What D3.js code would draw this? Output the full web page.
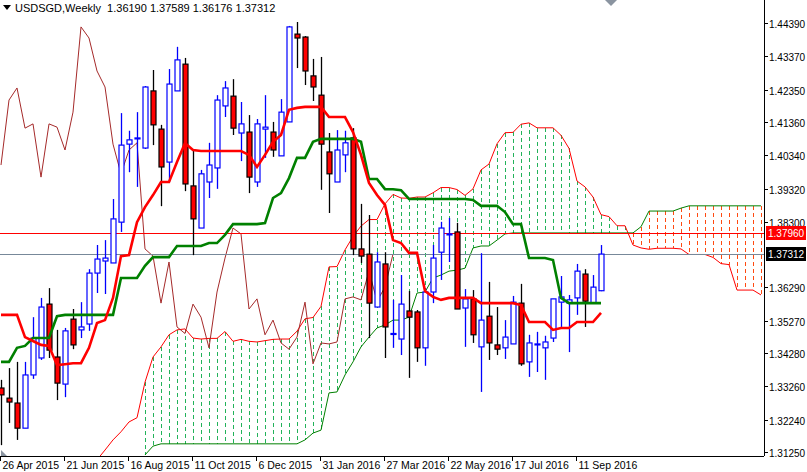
<!DOCTYPE html>
<html><head><meta charset="utf-8">
<script src="https://cdn.jsdelivr.net/npm/d3@7/dist/d3.min.js"></script>
<style>body{margin:0;background:#fff}svg{display:block}</style>
</head><body>
<script>
// Weekly bars, index 0 = week of 26 Apr 2015
const opens  = [1.3321,1.3290,1.3275,1.3198,1.3361,1.3413,1.3578,1.3416,1.3333,1.3532,1.3499,1.3517,1.3673,1.3710,1.3704,1.3829,1.4068,1.4086,1.4056,1.4231,1.4114,1.4013,1.4231,1.4313,1.3940,1.3811,1.3952,1.3995,1.4185,1.4215,1.4102,1.4105,1.3952,1.4114,1.4105,1.4032,1.4136,1.4405,1.4396,1.4277,1.4218,1.4044,1.3952,1.4035,1.4087,1.3747,1.3731,1.3569,1.3701,1.3487,1.3471,1.3557,1.3554,1.3444,1.3615,1.3737,1.3792,1.3799,1.3566,1.3594,1.3447,1.3541,1.3453,1.3444,1.3456,1.3581,1.3401,1.3456,1.3444,1.3474,1.3584,1.3581,1.3597,1.3670,1.3581,1.36190];
const highs  = [1.3346,1.3382,1.3401,1.3401,1.3538,1.3597,1.3627,1.3499,1.3505,1.3563,1.3584,1.3685,1.3759,1.3774,1.3900,1.4163,1.4109,1.4166,1.4246,1.4295,1.4127,1.4298,1.4366,1.4332,1.4050,1.3989,1.4072,1.4218,1.4261,1.4267,1.4197,1.4157,1.4145,1.4218,1.4136,1.4206,1.4430,1.4442,1.4399,1.4329,1.4335,1.4102,1.4111,1.4109,1.4117,1.3885,1.3851,1.3737,1.3737,1.3591,1.3667,1.3618,1.3560,1.3627,1.3759,1.3830,1.3842,1.3827,1.3624,1.3621,1.3734,1.3646,1.3569,1.3529,1.3603,1.3640,1.3484,1.3493,1.3481,1.3594,1.3664,1.3606,1.3701,1.3685,1.3667,1.37589];
const lows   = [1.3146,1.3214,1.3162,1.3198,1.3349,1.3407,1.3413,1.3284,1.3293,1.3440,1.3474,1.3496,1.3612,1.3609,1.3704,1.3799,1.3982,1.3937,1.4053,1.4065,1.3878,1.3952,1.4231,1.3924,1.3728,1.3811,1.3903,1.3931,1.4151,1.4096,1.4016,1.3918,1.3937,1.4026,1.4029,1.4032,1.4136,1.4301,1.4249,1.4200,1.3928,1.3857,1.3952,1.3982,1.3728,1.3704,1.3474,1.3569,1.3413,1.3444,1.3422,1.3352,1.3401,1.3389,1.3581,1.3652,1.3707,1.3563,1.3447,1.3459,1.3309,1.3407,1.3422,1.3410,1.3456,1.3389,1.3355,1.3370,1.3346,1.3462,1.3508,1.3431,1.3545,1.3508,1.3581,1.36176];
const closes = [1.3300,1.3278,1.3198,1.3361,1.3474,1.3569,1.3437,1.3336,1.3496,1.3453,1.3508,1.3673,1.3716,1.3719,1.3839,1.4065,1.4081,1.4087,1.4243,1.4127,1.3998,1.4252,1.4326,1.3946,1.3839,1.3977,1.4004,1.4203,1.4240,1.4117,1.4130,1.3967,1.4130,1.4120,1.4050,1.4166,1.4427,1.4393,1.4292,1.4243,1.4068,1.3977,1.4050,1.4072,1.3747,1.3725,1.3581,1.3707,1.3508,1.3488,1.3578,1.3538,1.3444,1.3615,1.3719,1.3811,1.3793,1.3563,1.3594,1.3484,1.3529,1.3459,1.3440,1.3477,1.3584,1.3395,1.3459,1.3456,1.3462,1.3594,1.3600,1.3591,1.3679,1.3587,1.3630,1.37312];
const tenkan = [1.3545,1.3545,1.3545,1.3477,1.3465,1.3453,1.3450,1.3391,1.3394,1.3397,1.3397,1.3444,1.3520,1.3529,1.3597,1.3725,1.3728,1.3829,1.3875,1.3912,1.3952,1.3952,1.4013,1.4071,1.4050,1.4047,1.4047,1.4047,1.4047,1.4047,1.4047,1.4035,1.3998,1.4035,1.4075,1.4096,1.4173,1.4179,1.4182,1.4182,1.4182,1.4151,1.4151,1.4151,1.4105,1.4035,1.3949,1.3912,1.3882,1.3774,1.3765,1.3735,1.3735,1.3618,1.3600,1.3591,1.3597,1.3597,1.3597,1.3597,1.3581,1.3581,1.3581,1.3581,1.3581,1.3575,1.3523,1.3523,1.3523,1.3499,1.3505,1.3505,1.3523,1.3523,1.3523,1.3551];
const kijun  = [1.3401,1.3401,1.3444,1.3450,1.3474,1.3474,1.3474,1.3541,1.3545,1.3545,1.3545,1.3545,1.3545,1.3545,1.3545,1.3658,1.3658,1.3658,1.3695,1.3722,1.3722,1.3722,1.3756,1.3756,1.3756,1.3756,1.3765,1.3765,1.3790,1.3823,1.3823,1.3823,1.3823,1.3826,1.3903,1.3918,1.3964,1.4026,1.4026,1.4075,1.4084,1.4084,1.4084,1.4084,1.4084,1.4075,1.3961,1.3961,1.3930,1.3930,1.3927,1.3900,1.3900,1.3900,1.3900,1.3900,1.3900,1.3900,1.3900,1.3897,1.3879,1.3879,1.3879,1.3860,1.3823,1.3823,1.3719,1.3719,1.3719,1.3713,1.3597,1.3581,1.3581,1.3581,1.3581,1.3581];
// Senkou spans, index = bar position (extends 26 bars into the future); null = off chart
const spanA = [null,null,null,null,null,null,null,null,null,null,null,null,1.3101,1.3131,1.3162,1.3187,1.3217,1.3230,1.3339,1.3416,1.3447,1.3484,1.3499,1.3502,1.3474,1.3471,
 1.3473,1.3473,1.3494,1.3464,1.3470,1.3464,1.3462,1.3466,1.3470,1.3471,1.3471,1.3495,1.3533,1.3537,1.3571,1.3692,1.3693,1.3744,1.3785,1.3817,1.3837,1.3837,1.3885,1.3914,1.3903,1.3902,1.3906,1.3906,1.3919,1.3935,1.3935,1.3929,1.3911,1.3931,1.3989,1.4007,1.4069,1.4103,1.4104,1.4129,1.4133,1.4118,1.4118,1.4118,1.4095,1.4055,1.3955,1.3937,1.3906,1.3852,1.3846,1.3818,1.3818,1.3759,1.3750,1.3746,1.3749,1.3749,1.3749,1.3747,1.3730,1.3730,1.3730,1.3721,1.3702,1.3699,1.3621,1.3621,1.3621,1.3606];
const spanB = [null,null,null,null,null,null,null,null,null,null,null,null,null,null,null,null,null,null,1.3116,1.3143,1.3150,1.3150,1.3150,1.3150,1.3150,1.3150,1.3150,1.3150,1.3150,1.3150,1.3150,1.3150,1.3150,1.3150,1.3150,1.3150,1.3150,1.3150,1.3162,1.3183,1.3192,1.3306,1.3309,1.3361,1.3401,1.3447,1.3477,1.3505,1.3514,1.3529,1.3529,1.3538,1.3612,1.3615,1.3658,1.3667,1.3679,1.3682,1.3688,1.3750,1.3756,1.3756,1.3774,1.3793,1.3796,1.3796,1.3796,1.3796,1.3796,1.3796,1.3796,1.3796,1.3796,1.3796,1.3796,1.3796,1.3796,1.3796,1.3796,1.3796,1.3815,1.3863,1.3863,1.3863,1.3863,1.3872,1.3879,1.3879,1.3879,1.3879,1.3879,1.3879,1.3879,1.3879,1.3879,1.3879];
const chikouShift = 26;
const priceTicks = [1.44390,1.43370,1.42350,1.41360,1.40340,1.39320,1.38300,1.36290,1.35270,1.34280,1.33260,1.32240,1.31250];
const dateLabels = ["26 Apr 2015","21 Jun 2015","16 Aug 2015","11 Oct 2015","6 Dec 2015","31 Jan 2016","27 Mar 2016","22 May 2016","17 Jul 2016","11 Sep 2016"];
const dateIdx = [0,8,16,24,32,40,48,56,64,72];
const levelRed = 1.37960, levelBid = 1.37312;
const title = "USDSGD,Weekly  1.36190 1.37589 1.36176 1.37312";

const W=807,H=472, PR=764, PB=456;
const svg=d3.select("body").append("svg").attr("width",W).attr("height",H);
const x=d3.scaleLinear().domain([0,100]).range([1,801]);
const y=d3.scaleLinear().domain([1.31250,1.44390]).range([452,23]);
svg.append("defs").append("clipPath").attr("id","c").append("rect").attr("x",0).attr("y",0).attr("width",PR).attr("height",PB);
const g=svg.append("g").attr("clip-path","url(#c)");

// cloud hatch: vertical dashes built as small rects
spanA.forEach((a,j)=>{const b=spanB[j]; if(a==null||b==null) return;
  const y1=Math.round(Math.min(y(a),y(b))), y2=Math.round(Math.max(y(a),y(b)));
  const col=a>=b?"#22b25a":"#ff4a10";
  for(let yy=y1; yy<y2; yy+=7){
    g.append("rect").attr("x",Math.round(x(j))).attr("y",yy).attr("width",1).attr("height",Math.min(4,y2-yy)).attr("fill",col);
  }});
const line=d3.line().defined(d=>d!=null).x((d,i)=>x(i)).y(d=>y(d));
g.append("path").attr("d",line(spanA)).attr("fill","none").attr("stroke","#ff0000").attr("stroke-width",1);
g.append("path").attr("d",line(spanB)).attr("fill","none").attr("stroke","#008000").attr("stroke-width",1);
// chikou: closes plotted 26 bars back
const chik=d3.line().x((d,i)=>x(i)).y(d=>y(d));
g.append("path").attr("d",chik(closes.slice(chikouShift))).attr("fill","none").attr("stroke","#a52a2a").attr("stroke-width",1);
// levels
g.append("line").attr("x1",0).attr("x2",PR).attr("y1",Math.round(y(levelRed))+0.5).attr("y2",Math.round(y(levelRed))+0.5).attr("stroke","#ff0000");
g.append("line").attr("x1",0).attr("x2",PR).attr("y1",Math.round(y(levelBid))+0.5).attr("y2",Math.round(y(levelBid))+0.5).attr("stroke","#778899");
// candles
opens.forEach((o,i)=>{const c=closes[i],h=highs[i],l=lows[i],up=c>=o,cx=Math.round(x(i))+0.5;
  g.append("line").attr("x1",cx).attr("x2",cx).attr("y1",y(h)).attr("y2",y(l)).attr("stroke",up?"#0000ff":"#000").attr("stroke-width",1.3);
  const t=y(Math.max(o,c)),bt=y(Math.min(o,c));
  g.append("rect").attr("x",cx-2.5).attr("y",t).attr("width",5).attr("height",Math.max(bt-t,1))
   .attr("fill",up?"#fff":"#ff0000").attr("stroke",up?"#0000ff":"#000").attr("stroke-width",1.2);});
// tenkan / kijun
g.append("path").attr("d",line(kijun)).attr("fill","none").attr("stroke","#008000").attr("stroke-width",2.6);
g.append("path").attr("d",line(tenkan)).attr("fill","none").attr("stroke","#ff0000").attr("stroke-width",2.6);

// axes
svg.append("line").attr("x1",PR+0.5).attr("x2",PR+0.5).attr("y1",0).attr("y2",PB).attr("stroke","#000");
svg.append("line").attr("x1",0).attr("x2",PR).attr("y1",PB+0.5).attr("y2",PB+0.5).attr("stroke","#000");
const font="Liberation Sans, Arial, sans-serif";
priceTicks.forEach(p=>{const yy=Math.round(y(p))+0.5;
  svg.append("line").attr("x1",PR).attr("x2",PR+4).attr("y1",yy).attr("y2",yy).attr("stroke","#000");
  svg.append("text").attr("x",PR+5).attr("y",yy+4).attr("font-family",font).attr("font-size",10).text(p.toFixed(5));});
[[levelRed,"#ff0000"],[levelBid,"#000"]].forEach(([p,col])=>{const yy=Math.round(y(p));
  svg.append("rect").attr("x",PR+2).attr("y",yy-7).attr("width",40).attr("height",14).attr("fill",col);
  svg.append("text").attr("x",PR+4).attr("y",yy+4).attr("font-family",font).attr("font-size",10).attr("fill","#fff").text(p.toFixed(5));});
dateIdx.forEach((di,k)=>{const xx=Math.round(x(di))-0.5;
  svg.append("line").attr("x1",xx).attr("x2",xx).attr("y1",PB).attr("y2",PB+5).attr("stroke","#000");
  svg.append("text").attr("x",xx+2).attr("y",PB+13).attr("font-family",font).attr("font-size",10.5).text(dateLabels[k]);});
svg.append("path").attr("d","M1,450 L7,456 L1,456Z").attr("fill","#8a94a0");
svg.append("path").attr("d","M605,0 L617,0 L611,6Z").attr("fill","#8a94a0");
svg.append("path").attr("d","M3,5 L11,5 L7,10Z").attr("fill","#000");
svg.append("text").attr("x",15).attr("y",12).attr("font-family",font).attr("font-size",11).attr("xml:space","preserve").text(title);
</script>
</body></html>
